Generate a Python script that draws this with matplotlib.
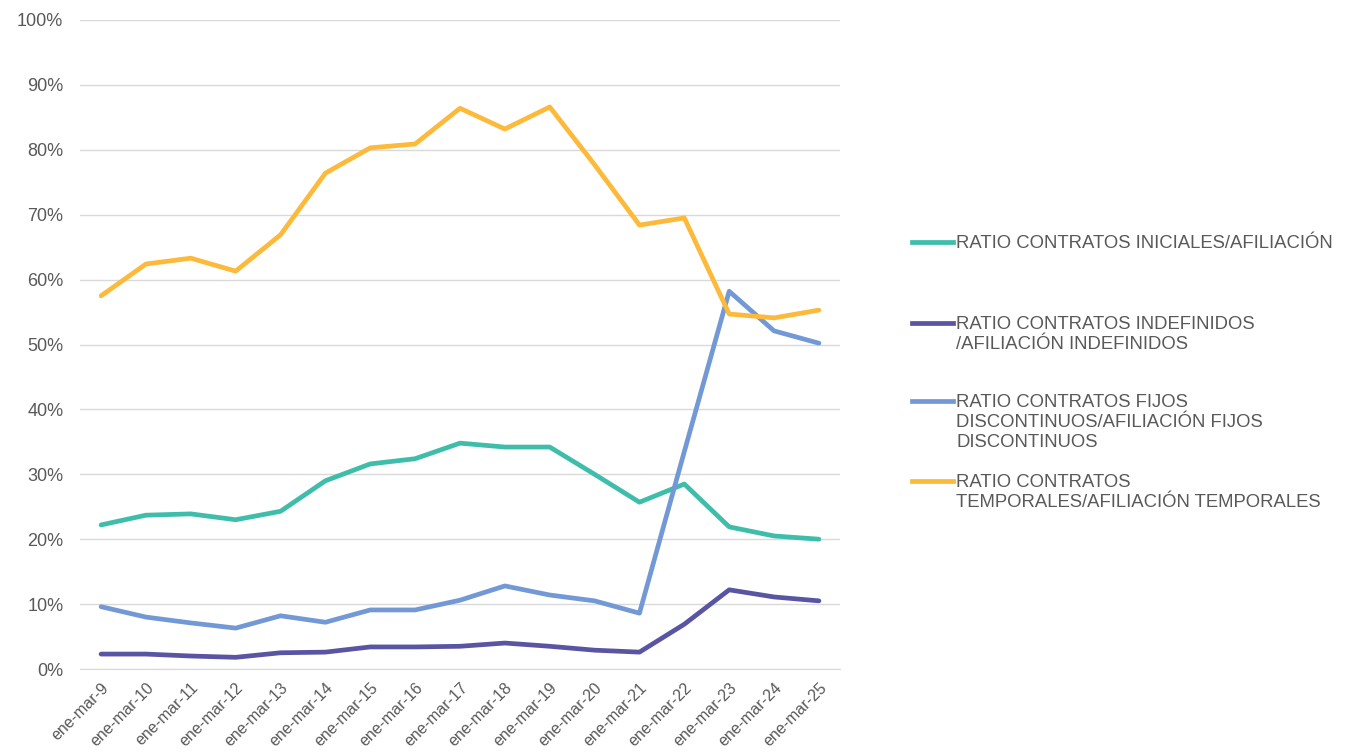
import matplotlib.pyplot as plt
from matplotlib.lines import Line2D
from matplotlib.ticker import PercentFormatter

plt.rcParams["font.family"] = ["Liberation Sans", "DejaVu Sans"]

periods = [f"ene-mar-{y}" for y in range(9, 26)]

ratio_iniciales = [22.2, 23.7, 23.9, 23.0, 24.3, 29.0, 31.6, 32.4, 34.8, 34.2, 34.2,
                   30.0, 25.7, 28.5, 21.9, 20.5, 20.0]
ratio_indefinidos = [2.3, 2.3, 2.0, 1.8, 2.5, 2.6, 3.4, 3.4, 3.5, 4.0, 3.5,
                     2.9, 2.6, 6.9, 12.2, 11.1, 10.5]
ratio_fijos_disc = [9.6, 8.0, 7.1, 6.3, 8.2, 7.2, 9.1, 9.1, 10.6, 12.8, 11.4,
                    10.5, 8.6, 33.5, 58.2, 52.1, 50.2]
ratio_temporales = [57.5, 62.4, 63.3, 61.3, 66.9, 76.4, 80.3, 80.9, 86.4, 83.2, 86.6,
                    77.7, 68.4, 69.5, 54.7, 54.1, 55.3]

series = [
    (ratio_iniciales, "#3dbdaa", "RATIO CONTRATOS INICIALES/AFILIACIÓN"),
    (ratio_indefinidos, "#5a55a3", "RATIO CONTRATOS INDEFINIDOS\n/AFILIACIÓN INDEFINIDOS"),
    (ratio_fijos_disc, "#7299d5", "RATIO CONTRATOS FIJOS\nDISCONTINUOS/AFILIACIÓN FIJOS\nDISCONTINUOS"),
    (ratio_temporales, "#fdb93a", "RATIO CONTRATOS\nTEMPORALES/AFILIACIÓN TEMPORALES"),
]

text_color = "#595959"

fig = plt.figure(figsize=(13.57, 7.54), dpi=100)
ax = fig.add_axes([80 / 1357, 85 / 754, 760 / 1357, 649 / 754])

x = list(range(len(periods)))
for values, color, label in series:
    ax.plot(x, values, color=color, linewidth=3.4, solid_capstyle="round", zorder=3)

ax.set_xlim(-0.47, len(periods) - 1 + 0.47)
ax.set_ylim(0, 100)
ax.set_yticks(range(0, 101, 10))
ax.yaxis.set_major_formatter(PercentFormatter(decimals=0))
ax.set_xticks(x)
ax.set_xticklabels(periods, rotation=45, ha="right", rotation_mode="anchor")

ax.grid(axis="y", color="#d9d9d9", linewidth=1, zorder=0)
for side in ["top", "right", "left"]:
    ax.spines[side].set_visible(False)
ax.spines["bottom"].set_color("#d9d9d9")
ax.tick_params(axis="both", length=0, colors=text_color)
ax.tick_params(axis="y", labelsize=13, pad=12)
ax.tick_params(axis="x", labelsize=11.5, pad=8)

# legend, handle aligned with first line of each label (Excel style)
legend_rows = [242, 323, 401, 481]
for (values, color, label), row in zip(series, legend_rows):
    yf = 1 - row / 754
    fig.add_artist(Line2D([912 / 1357, 953 / 1357], [yf, yf], color=color,
                          linewidth=3.4, transform=fig.transFigure))
    fig.text(956 / 1357, yf + 7 / 754, label, color=text_color, fontsize=13.3,
             va="top", ha="left", linespacing=1.22)

fig.savefig("out.png", dpi=100)
